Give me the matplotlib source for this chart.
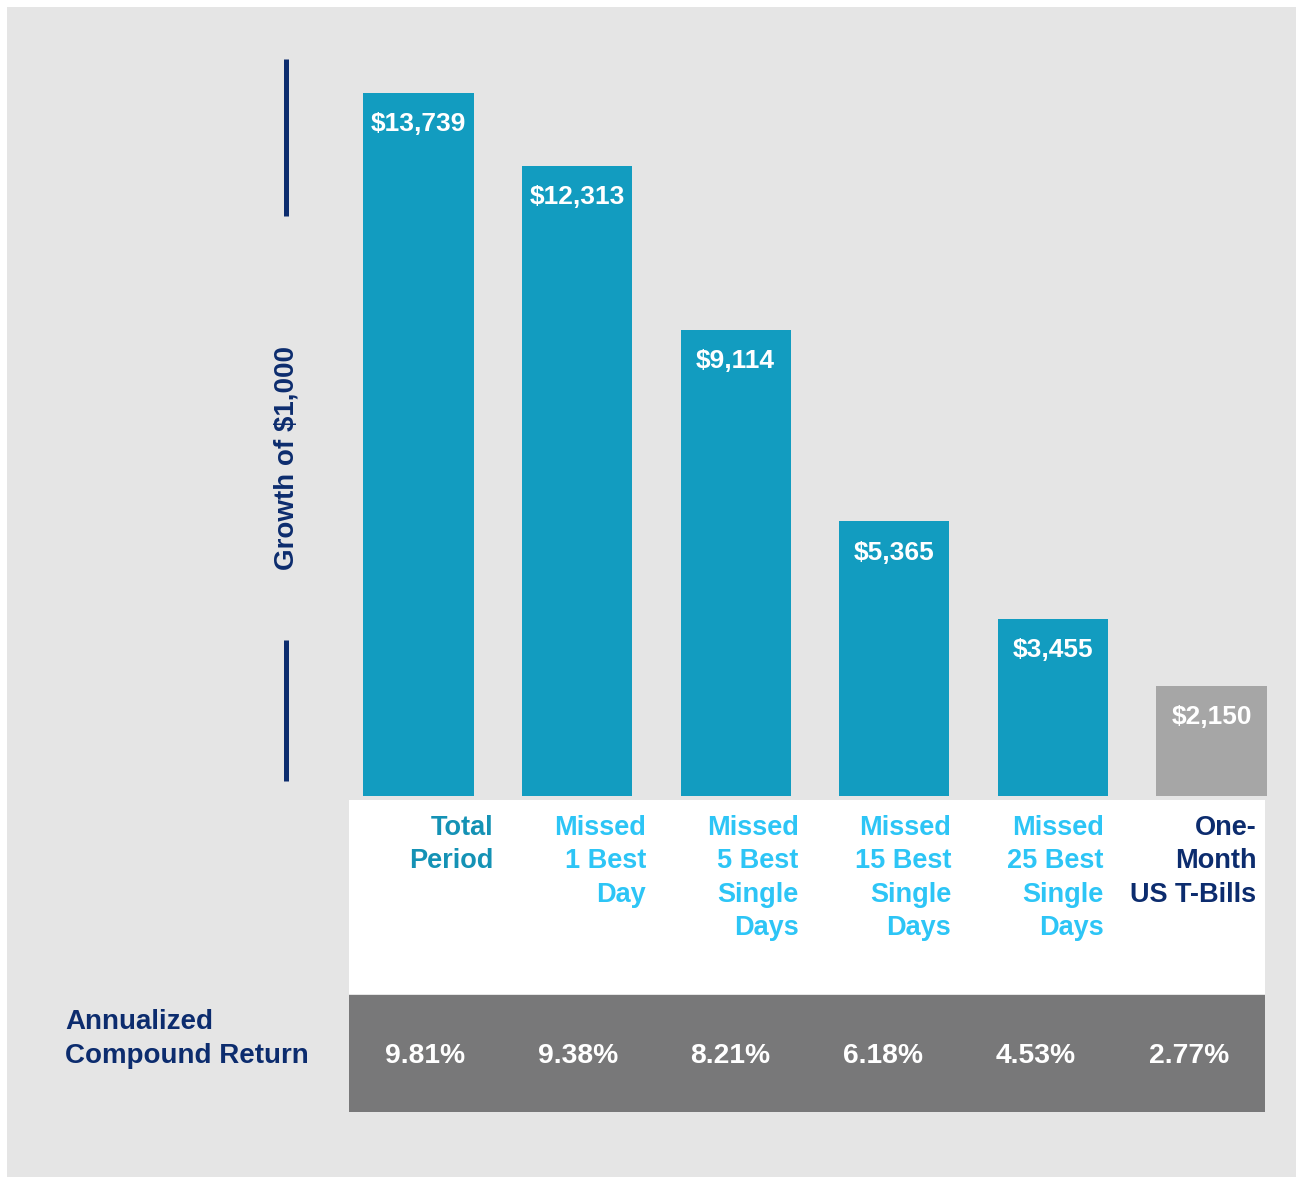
import matplotlib
matplotlib.use('Agg')
import matplotlib.pyplot as plt
from matplotlib.patches import Rectangle
from matplotlib.lines import Line2D

# data
categories = ['Total\nPeriod', 'Missed\n1 Best\nDay', 'Missed\n5 Best\nSingle\nDays',
              'Missed\n15 Best\nSingle\nDays', 'Missed\n25 Best\nSingle\nDays',
              'One-\nMonth\nUS T-Bills']
growth = [13739, 12313, 9114, 5365, 3455, 2150]
annual_return = [9.81, 9.38, 8.21, 6.18, 4.53, 2.77]

BG = '#e5e5e5'
TEAL = '#129cc0'
GREY_BAR = '#a6a6a6'
BAND = '#787879'
NAVY = '#0c2c6e'
LIGHT_BLUE = '#2dc5f6'
DARK_TEAL = '#1492b5'
bar_colors = [TEAL] * 5 + [GREY_BAR]
label_colors = [DARK_TEAL] + [LIGHT_BLUE] * 4 + [NAVY]

W, H = 1296, 1177
plt.rcParams['font.family'] = ['Liberation Sans', 'DejaVu Sans']
fig = plt.figure(figsize=(W / 100, H / 100), dpi=100)
fig.patch.set_facecolor('white')


def px_axes(x0, y0, x1, y1):
    """axes placed by pixel box (top-left origin)"""
    return fig.add_axes([x0 / W, 1 - y1 / H, (x1 - x0) / W, (y1 - y0) / H])


# grey panel behind everything
fig.add_artist(Rectangle((7 / W, 0), 1 - 7 / W, 1 - 7 / H, transform=fig.transFigure,
                         facecolor=BG, edgecolor='none', zorder=0))

# bar chart
ax = px_axes(339.2, 59, 1290.8, 796)
ax.set_facecolor('none')
xs = list(range(len(growth)))
bars = ax.bar(xs, growth, width=0.694, color=bar_colors, edgecolor='none')
ax.set_xlim(-0.5, 5.5)
ax.set_ylim(0, 14400)
ax.axis('off')
for b, v in zip(bars, growth):
    ax.annotate('${:,}'.format(v), (b.get_x() + b.get_width() / 2, v), xytext=(0, -22.5),
                textcoords='offset points', ha='center', va='center',
                color='white', fontsize=19, fontweight='bold')

# y label with the two bars
fig.text(287 / W, 1 - 458 / H, 'Growth of $1,000', rotation=90, ha='center', va='center',
         color=NAVY, fontsize=20, fontweight='bold')
for y0, y1 in [(59, 216), (640, 781)]:
    fig.add_artist(Line2D([286 / W, 286 / W], [1 - y0 / H, 1 - y1 / H],
                          transform=fig.transFigure, color=NAVY, lw=3.6,
                          solid_capstyle='butt'))

# table below the bars
at = px_axes(349, 800, 1265, 1112)
at.set_xlim(0, 6)
at.set_ylim(0, 1)
at.axis('off')
split = (1112 - 994) / 312
at.add_patch(Rectangle((0, split), 6, 1 - split, facecolor='white', edgecolor='none'))
at.add_patch(Rectangle((0, 0), 6, split - 0.003, facecolor=BAND, edgecolor='none'))
for i, (lab, c, r) in enumerate(zip(categories, label_colors, annual_return)):
    at.text(i + 0.5 + 0.445, 1 - 15 / 312, lab, ha='right', va='top', color=c,
            fontsize=19.5, fontweight='bold', linespacing=1.37)
    at.text(i + 0.5, (1112 - 1056) / 312, '{:.2f}%'.format(r), ha='center', va='center',
            color='white', fontsize=20.3, fontweight='bold')

fig.text(65 / W, 1 - 1039 / H, 'Annualized\nCompound Return', ha='left', va='center',
         color=NAVY, fontsize=20, fontweight='bold', linespacing=1.42)

fig.savefig('out.png', dpi=100, facecolor=fig.get_facecolor())
